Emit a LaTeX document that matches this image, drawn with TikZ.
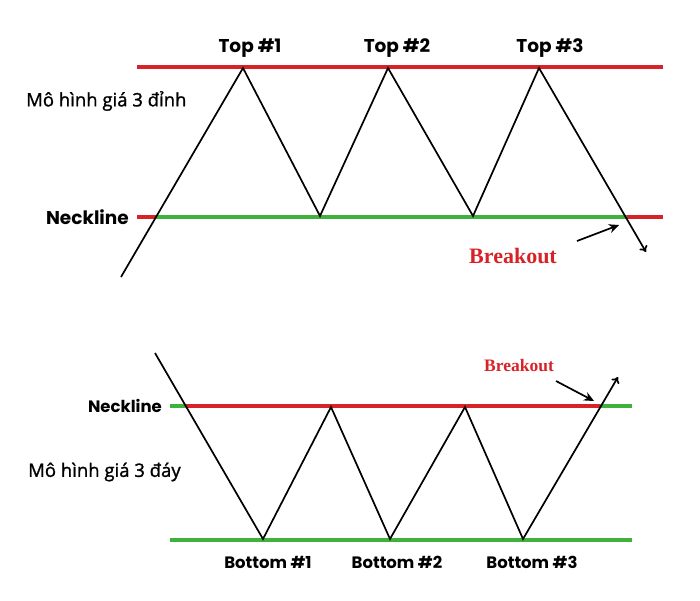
\documentclass[tikz,border=0pt]{standalone}
\usepackage{fontspec}
\setmainfont{Poppins}
\newfontfamily\vnfont{Open Sans}[FakeBold=1.2]
\newfontfamily\brkfont{Liberation Serif}
\usetikzlibrary{arrows.meta}
\definecolor{lred}{RGB}{215,35,40}
\definecolor{lgreen}{RGB}{62,178,58}
\begin{document}
\begin{tikzpicture}[x=1pt,y=-1pt,
  level/.style={line width=4pt},
  price/.style={line width=1.7pt, black, line join=miter},
  pointer/.style={line width=1.7pt, black, -{Stealth[length=10pt,width=9pt]}},
  lbl/.style={font=\bfseries\fontsize{#1}{#1}\selectfont, inner sep=0pt},
  vnlbl/.style={font=\vnfont\fontsize{18.5}{18.5}\selectfont, inner sep=0pt, anchor=west},
  brk/.style={font=\brkfont\bfseries\fontsize{#1}{#1}\selectfont, text=lred, inner sep=0pt}]
\useasboundingbox (0,0) rectangle (700,600);
% ---------- top: triple top ----------
\coordinate (rtL) at (137,67);  \coordinate (rtR) at (663,67);
\coordinate (nkL) at (137,217); \coordinate (nkA) at (156,217);
\coordinate (nkB) at (627,217); \coordinate (nkR) at (663,217);
\draw[level, lred] (rtL) -- (rtR);
\draw[level, lred] (nkL) -- (nkA);
\draw[level, lgreen] (nkA) -- (nkB);
\draw[level, lred] (nkB) -- (nkR);
\coordinate (s0) at (121,277);
\coordinate (t1) at (243,68);
\coordinate (b1) at (320,216);
\coordinate (t2) at (388,68);
\coordinate (b2) at (473,216);
\coordinate (t3) at (539,68);
\coordinate (e1) at (646,252);
\draw[price, -{To[length=6pt,width=9pt]}] (s0) -- (t1) -- (b1) -- (t2) -- (b2) -- (t3) -- (e1);
\node[lbl=18.5] (top1) at (250,48) {Top \#1};
\node[lbl=18.5] (top2) at (397,48) {Top \#2};
\node[lbl=18.5] (top3) at (550,48) {Top \#3};
\node[vnlbl] (title1) at (26,101) {Mô hình giá 3 đỉnh};
\node[lbl=18.5, anchor=east] (neck1) at (129,217) {Neckline};
\node[brk=22] (brk1) at (513,256) {Breakout};
\coordinate (p1s) at (577,241);
\coordinate (p1e) at (619,225);
\draw[pointer] (p1s) -- (p1e);
% ---------- bottom: triple bottom ----------
\coordinate (gL) at (170,406); \coordinate (gA) at (186,406);
\coordinate (gB) at (600,406); \coordinate (gR) at (632,406);
\coordinate (bL) at (170,540); \coordinate (bR) at (632,540);
\draw[level, lgreen] (gL) -- (gA);
\draw[level, lred] (gA) -- (gB);
\draw[level, lgreen] (gB) -- (gR);
\draw[level, lgreen] (bL) -- (bR);
\coordinate (u0) at (155,353);
\coordinate (v1) at (263,539);
\coordinate (w1) at (331,407);
\coordinate (v2) at (390,539);
\coordinate (w2) at (465,407);
\coordinate (v3) at (523,539);
\coordinate (e2) at (618,377);
\draw[price, -{To[length=6pt,width=9pt]}] (u0) -- (v1) -- (w1) -- (v2) -- (w2) -- (v3) -- (e2);
\node[lbl=16.5] (bot1) at (268,562) {Bottom \#1};
\node[lbl=16.5] (bot2) at (397,562) {Bottom \#2};
\node[lbl=16.5] (bot3) at (532,562) {Bottom \#3};
\node[vnlbl] (title2) at (28,472) {Mô hình giá 3 đáy};
\node[lbl=16.5, anchor=east] (neck2) at (162,406) {Neckline};
\node[brk=17.5] (brk2) at (519,366) {Breakout};
\coordinate (p2s) at (556,381);
\coordinate (p2e) at (594,401);
\draw[pointer] (p2s) -- (p2e);
\end{tikzpicture}
\end{document}
